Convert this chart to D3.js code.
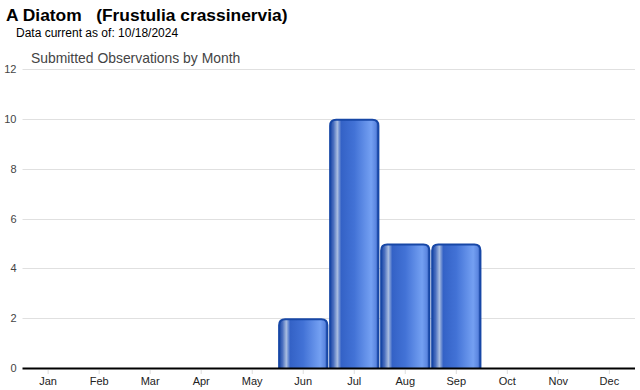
<!DOCTYPE html>
<html>
<head>
<meta charset="utf-8">
<script src="https://cdn.jsdelivr.net/npm/d3@7"></script>
<style>
  body { margin: 0; background: #fff; }
  svg { display: block; font-family: 'Liberation Sans', Arial, sans-serif; }
</style>
</head>
<body>
<div id="chart"></div>
<script>
const months = ['Jan', 'Feb', 'Mar', 'Apr', 'May', 'Jun', 'Jul', 'Aug', 'Sep', 'Oct', 'Nov', 'Dec'];
const counts = [0, 0, 0, 0, 0, 2, 10, 5, 5, 0, 0, 0];
const yTicks = [0, 2, 4, 6, 8, 10, 12];

const width = 640, height = 390;
const margins = {top: 69, right: 5, bottom: 22, left: 22.5};
const innerW = width - margins.left - margins.right;
const innerH = height - margins.top - margins.bottom;

const svgElem = document.createElementNS('http://www.w3.org/2000/svg', 'svg');
document.getElementById('chart').appendChild(svgElem);
const root = d3.select(svgElem).attr('width', width).attr('height', height);

// Titles
root.append('text').attr('x', 6).attr('y', 21)
  .attr('font-size', '17.4px').attr('font-weight', 'bold').attr('fill', '#000')
  .attr('xml:space', 'preserve')
  .text('A Diatom   (Frustulia crassinervia)');
root.append('text').attr('x', 16).attr('y', 37)
  .attr('font-size', '12px').attr('fill', '#000')
  .text('Data current as of: 10/18/2024');
root.append('text').attr('x', 31).attr('y', 63)
  .attr('font-size', '13.9px').attr('fill', '#444')
  .text('Submitted Observations by Month');

// Gradient for bars
const defs = root.append('defs');
const grad = defs.append('linearGradient').attr('id', 'barGrad')
  .attr('x1', '0%').attr('x2', '100%').attr('y1', '0%').attr('y2', '0%');
[[0, '#1b47a6'], [0.07, '#4a6fbf'], [0.15, '#a9bde0'], [0.23, '#3462c6'],
 [0.5, '#4272d6'], [0.85, '#74a0f2'], [0.95, '#5b86e0'], [1, '#1b47a6']]
  .forEach(([o, c]) => grad.append('stop').attr('offset', o).attr('stop-color', c));

const svg = root.append('g').attr('transform', `translate(${margins.left}, ${margins.top})`);

const x = d3.scaleBand().domain(months).range([0, innerW]).paddingInner(0.015).paddingOuter(0.01);
const y = d3.scaleLinear().domain([0, 12]).range([innerH, 0]);

const data = months.map((m, i) => ({month: m, count: counts[i]}));

// Grid
svg.append('g').selectAll('line').data(yTicks.filter(d => d > 0)).enter().append('line')
  .attr('x1', 0).attr('x2', innerW)
  .attr('y1', d => Math.round(y(d)) + 0.5).attr('y2', d => Math.round(y(d)) + 0.5)
  .attr('stroke', '#e0e0e0').attr('stroke-width', 1);

// Y labels
svg.append('g').selectAll('text').data(yTicks).enter().append('text')
  .attr('x', -6).attr('y', d => y(d) + 4)
  .attr('text-anchor', 'end').attr('font-size', '11px').attr('fill', '#444')
  .text(d => d);

// Bars with rounded tops
const r = 6;
function barPath(d) {
  const x0 = x(d.month) + 1, w = x.bandwidth() - 2;
  const y0 = y(d.count) + 1, y1 = y(0);
  return `M${x0},${y1} V${y0 + r} Q${x0},${y0} ${x0 + r},${y0} H${x0 + w - r} Q${x0 + w},${y0} ${x0 + w},${y0 + r} V${y1}`;
}
svg.append('g').selectAll('path').data(data.filter(d => d.count > 0)).enter()
  .append('path')
  .attr('d', barPath)
  .attr('fill', 'url(#barGrad)')
  .attr('stroke', '#1747a6').attr('stroke-width', 2);

// X axis
const xAxis = svg.append('g').attr('transform', `translate(0, ${innerH})`);
xAxis.append('line').attr('x1', 0).attr('x2', innerW).attr('y1', 0.5).attr('y2', 0.5)
  .attr('stroke', '#000').attr('stroke-width', 2);
xAxis.selectAll('.tick').data(months).enter().append('line')
  .attr('x1', d => x(d) + x.bandwidth() / 2).attr('x2', d => x(d) + x.bandwidth() / 2)
  .attr('y1', 2).attr('y2', 6).attr('stroke', '#ddd');
xAxis.selectAll('text').data(months).enter().append('text')
  .attr('x', d => x(d) + x.bandwidth() / 2).attr('y', 17)
  .attr('text-anchor', 'middle').attr('font-size', '11px').attr('fill', '#222')
  .text(d => d);
</script>
</body>
</html>
